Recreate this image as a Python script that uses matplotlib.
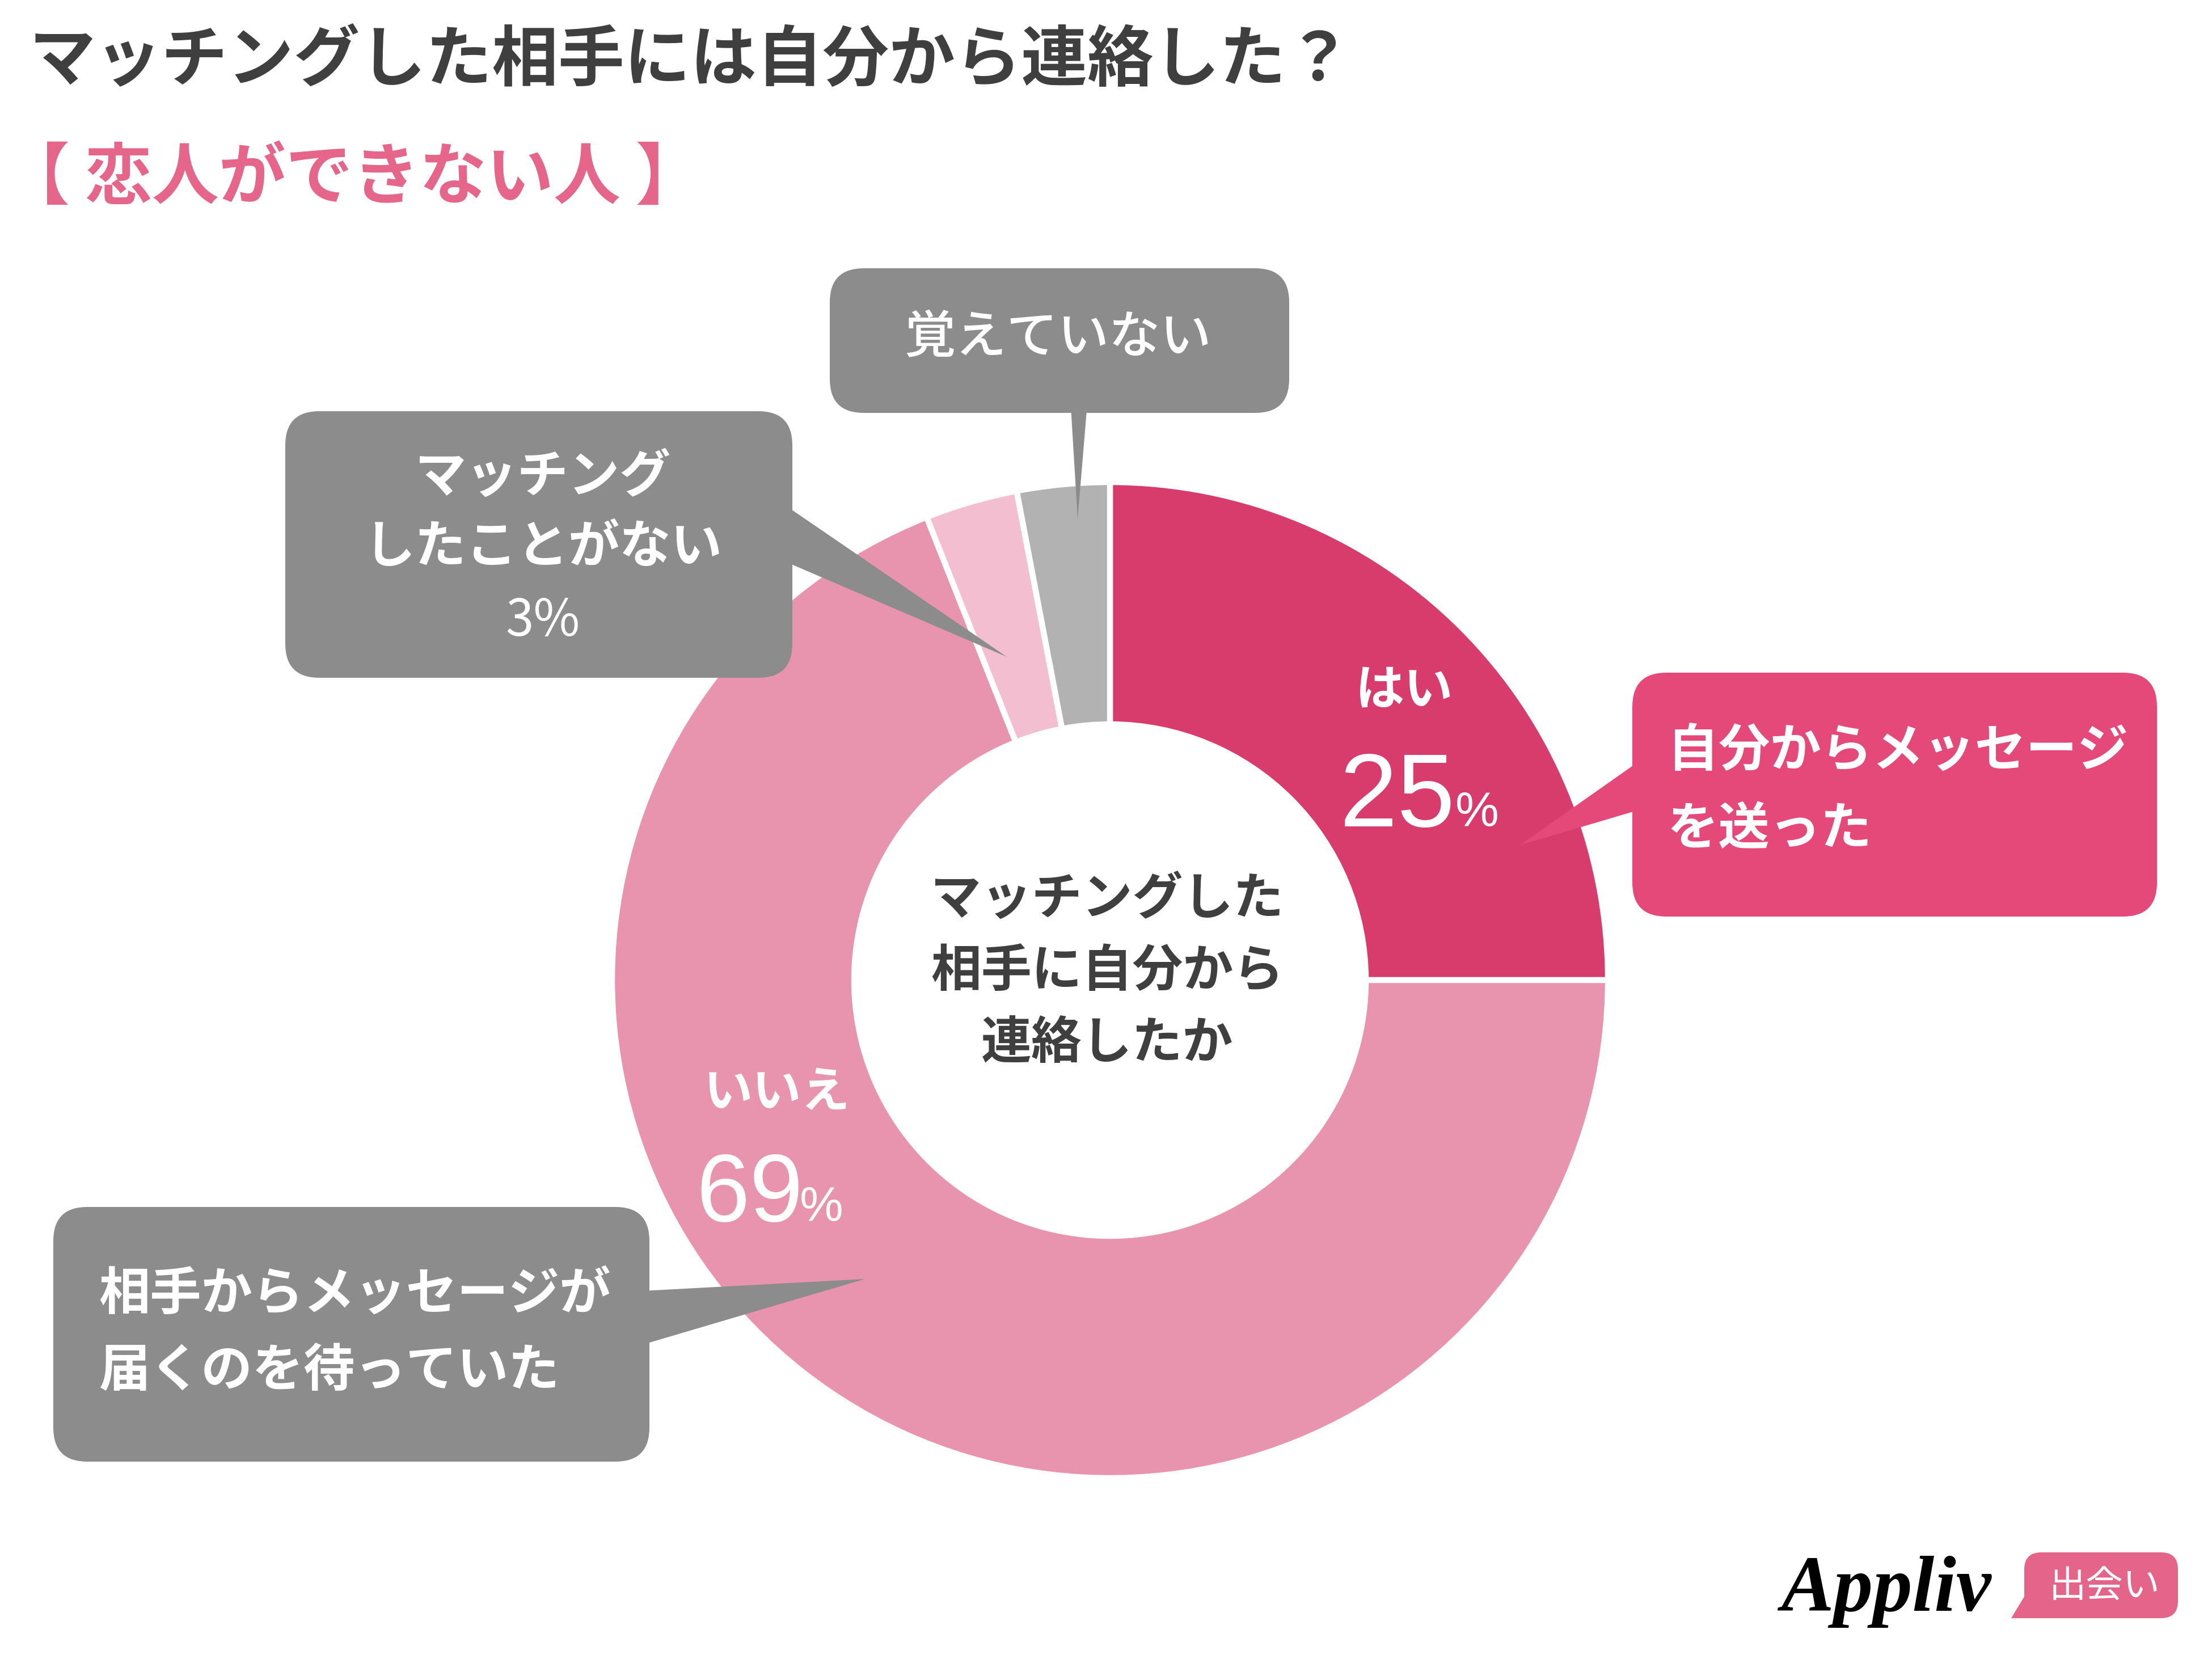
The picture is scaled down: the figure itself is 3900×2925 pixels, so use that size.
import matplotlib.pyplot as plt
from matplotlib.patches import FancyBboxPatch, Polygon

W, H = 3900, 2925

# chart data
labels = ['はい', 'いいえ', 'マッチングしたことがない', '覚えていない']
shares = [25, 69, 3, 3]
colors = ['#D83C6D', '#E994AE', '#F3BFD0', '#B2B2B2']

title = 'マッチングした相手には自分から連絡した？'
subtitle = '【 恋人ができない人 】'
center_lines = ['マッチングした', '相手に自分から', '連絡したか']
yes_note = ['自分からメッセージ', 'を送った']
no_note = ['相手からメッセージが', '届くのを待っていた']
never_note = ['マッチング', 'したことがない']
forgot_note = '覚えていない'

JP = ['Noto Sans CJK JP', 'DejaVu Sans']
NUM = 'Liberation Sans'
plt.rcParams['font.family'] = JP

GRAY = '#8C8C8C'
PINK_BOX = '#E5497A'
DARK = '#3F3F3F'


def Y(y):
    return H - y


fig = plt.figure(figsize=(39, 29.25), dpi=100)
ax = fig.add_axes([0, 0, 1, 1])

cx, cy = 1957, 1728
ax.pie(shares, colors=colors, startangle=90, counterclock=False,
       center=(cx, Y(cy)), radius=878,
       wedgeprops=dict(width=427, edgecolor='white', linewidth=7.5))
ax.set_xlim(0, W)
ax.set_ylim(0, H)
ax.set_aspect('equal')
ax.axis('off')


def callout(x0, y0, x1, y1, tip, color, r=60):
    ax.add_patch(FancyBboxPatch((x0, Y(y1)), x1 - x0, y1 - y0,
                                boxstyle='round,pad=0,rounding_size=%d' % r,
                                fc=color, ec='none', zorder=3))
    ax.add_patch(Polygon([(x, Y(y)) for x, y in tip], closed=True,
                         fc=color, ec='none', zorder=3))


def txt(x, y, s, size, color='white', ha='center', weight='bold', **kw):
    ax.text(x, Y(y), s, ha=ha, va='center', fontsize=size, color=color,
            fontweight=weight, zorder=5, **kw)


# callouts
callout(2878, 1186, 3803, 1616, [(2910, 1328), (2910, 1422), (2680, 1490)], PINK_BOX)
callout(1463, 473, 2273, 728, [(1887, 700), (1918, 700), (1900, 915)], GRAY)
callout(503, 725, 1397, 1195, [(1370, 881), (1370, 984), (1775, 1158)], GRAY)
callout(94, 2128, 1145, 2577, [(1115, 2277), (1115, 2376), (1525, 2255)], GRAY)

for line, y in zip(yes_note, [1325, 1462]):
    txt(2940, y, line, 65, ha='left')
txt(1865, 596, forgot_note, 65, weight='medium')
for line, y in zip(never_note, [841, 965]):
    txt(957, y, line, 65)
txt(957, 1096, '3%', 64, weight='normal')
for line, y in zip(no_note, [2282, 2417]):
    txt(174, y, line, 65, ha='left')

# center text
for line, y in zip(center_lines, [1586, 1713, 1840]):
    txt(1952, y, line, 64, color=DARK)

# slice labels
txt(2476, 1217, labels[0], 62)
ax.text(2566, Y(1457), '%d' % shares[0], ha='right', va='baseline', fontsize=132,
        color='white', family=NUM, zorder=5)
ax.text(2566, Y(1457), '%', ha='left', va='baseline', fontsize=62,
        color='white', family=NUM, zorder=5)
txt(1370, 1927, labels[1], 62)
ax.text(1416, Y(2153), '%d' % shares[1], ha='right', va='baseline', fontsize=122,
        color='white', family=NUM, zorder=5)
ax.text(1410, Y(2153), '%', ha='left', va='baseline', fontsize=62,
        color='white', family=NUM, zorder=5)

# titles
txt(52, 109, title, 84, color=DARK, ha='left')
txt(5, 315, subtitle, 85, color='#E5668A', ha='left')

# logo
ax.text(3140, Y(2840), 'Appliv', ha='left', va='baseline', fontsize=100,
        color='black', family='Liberation Serif', style='italic', fontweight='bold')
ax.add_patch(FancyBboxPatch((3569, Y(2853)), 271, 116,
                            boxstyle='round,pad=0,rounding_size=30',
                            fc='#E4648A', ec='none'))
ax.add_patch(Polygon([(3546, Y(2853)), (3600, Y(2853)), (3575, Y(2805))],
                     closed=True, fc='#E4648A', ec='none'))
txt(3710, 2798, '出会い', 47, weight='normal')

fig.savefig('out.png', dpi=100, facecolor='white')
